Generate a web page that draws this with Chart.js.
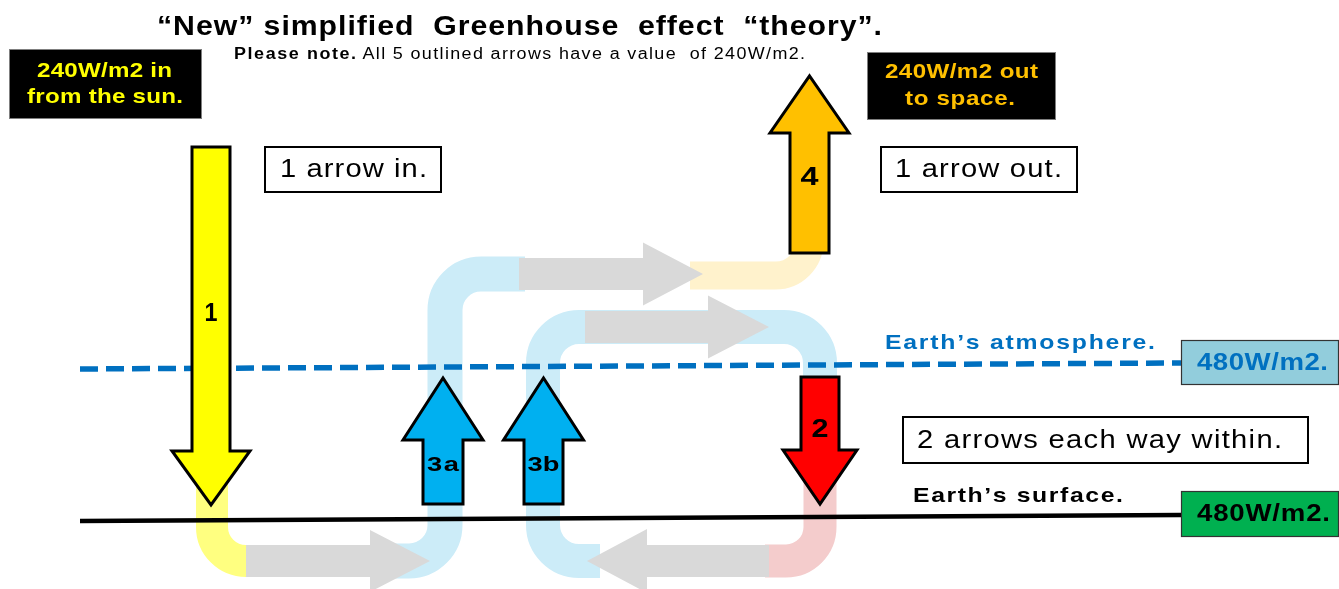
<!DOCTYPE html>
<html><head><meta charset="utf-8">
<script src="https://cdn.jsdelivr.net/npm/chart.js@4/dist/chart.umd.min.js"></script>
<style>html,body{margin:0;padding:0;background:#fff;}#wrap{width:1339px;height:589px;position:relative;}</style>
</head><body><div id="wrap"><canvas id="c" width="1339" height="589"></canvas></div>
<script>
// ---------- DATA (diagram coordinates: x 0..1339, y 0..589 from top) ----------
const atmosphereX = [80, 1181];
const atmosphereY = [369, 363];
const surfaceX = [80, 1181];
const surfaceY = [521, 515];

// outlined flow arrows (each 240 W/m2)
const flowLabels   = ['1', '2', '3a', '3b', '4'];
const flowX        = [211, 820, 443, 543.5, 809.5];
const flowTail     = [147, 377, 504, 504, 253];
const flowHeadBase = [451, 450, 440, 440, 133];
const flowTip      = [505, 504, 378, 378, 76];
const flowShaft    = [38, 38, 40, 39, 39];
const flowHead     = [78, 74, 80, 80, 79];
const flowLabelY   = [314, 430, 465, 465, 178];
const flowLabelW   = [13, 17, 32, 32, 18];

// faded grey transfer arrows (horizontal)
const greyShaftStart = [246, 519, 585, 769];
const greyShaftEnd   = [370, 643, 708, 647];
const greyTip        = [430, 703, 769, 587];
const greyY          = [561, 274, 327, 561];
const greyShaftH     = [32, 32, 32, 32];
const greyHeadH      = [62, 63, 63, 64];

// faded pipes (centre lines)
const pipeYellow = [[212, 478], [212, 561], [252, 561]];
const pipeBlueA  = [[395, 561], [445, 561], [445, 274], [525, 274]];
const pipeOrange = [[690, 275.5], [809.5, 275.5], [809.5, 245]];
const pipeBlueB  = [[600, 561], [543, 561], [543, 327], [820, 327], [820, 385]];
const pipeRed    = [[820, 460], [820, 561], [765, 561]];

// texts
const titleText = '\u201CNew\u201D simplified  Greenhouse  effect  \u201Ctheory\u201D.';
const noteBold = 'Please note.';
const noteText = ' All 5 outlined arrows have a value  of 240W/m2.';
const sunLines = ['240W/m2 in', 'from the sun.'];
const spaceLines = ['240W/m2 out', 'to space.'];
const boxTexts = ['1 arrow in.', '1 arrow out.', '2 arrows each way within.'];
const layerNames = ['Earth\u2019s atmosphere.', 'Earth\u2019s surface.'];
const layerValues = ['480W/m2.', '480W/m2.'];

// ---------- STYLES ----------
const FONT = '"Liberation Sans", Arial, sans-serif';
const flowColors = ['#FFFF00', '#FF0000', '#00B0F0', '#00B0F0', '#FFC000'];
const pipeStyles = [
  {pts: pipeYellow, w: 32, r: 34, c: '#FFFF80'},
  {pts: pipeBlueA,  w: 35, r: 36, c: '#CCECF8'},
  {pts: pipeOrange, w: 28, r: 34, c: '#FFF2CC'},
  {pts: pipeBlueB,  w: 34, r: 36, c: '#CCECF8'},
  {pts: pipeRed,    w: 33, r: 34, c: '#F4CCCC'}
];

function fitText(ctx, str, cx, cy, width, maxStretch) {
  const chars = Array.from(str);
  const ws = chars.map(ch => ctx.measureText(ch).width);
  const nat = ws.reduce((a, b) => a + b, 0);
  let sx = Math.min(width / nat, maxStretch || 1.2);
  let extra = chars.length > 1 ? (width - nat * sx) / (chars.length - 1) : 0;
  ctx.save();
  ctx.textAlign = 'left';
  ctx.textBaseline = 'middle';
  ctx.translate(cx - width / 2, cy);
  let x = 0;
  chars.forEach((ch, i) => {
    ctx.save(); ctx.translate(x, 0); ctx.scale(sx, 1); ctx.fillText(ch, 0, 0); ctx.restore();
    x += ws[i] * sx + extra;
  });
  ctx.restore();
}

const diagram = {
  id: 'diagram',
  beforeDatasetsDraw(chart) {
    const ctx = chart.ctx, X = v => chart.scales.x.getPixelForValue(v), Y = v => chart.scales.y.getPixelForValue(v);
    ctx.save();
    pipeStyles.forEach(p => {
      ctx.beginPath();
      ctx.moveTo(X(p.pts[0][0]), Y(p.pts[0][1]));
      for (let i = 1; i < p.pts.length - 1; i++) {
        ctx.arcTo(X(p.pts[i][0]), Y(p.pts[i][1]), X(p.pts[i + 1][0]), Y(p.pts[i + 1][1]), p.r);
      }
      const l = p.pts[p.pts.length - 1];
      ctx.lineTo(X(l[0]), Y(l[1]));
      ctx.lineWidth = p.w; ctx.strokeStyle = p.c; ctx.lineCap = 'butt'; ctx.lineJoin = 'round';
      ctx.stroke();
    });
    greyY.forEach((gy, i) => {
      const s = greyShaftStart[i], e = greyShaftEnd[i], t = greyTip[i], sh = greyShaftH[i] / 2, hh = greyHeadH[i] / 2;
      ctx.beginPath();
      ctx.moveTo(X(s), Y(gy - sh)); ctx.lineTo(X(e), Y(gy - sh)); ctx.lineTo(X(e), Y(gy - hh));
      ctx.lineTo(X(t), Y(gy)); ctx.lineTo(X(e), Y(gy + hh)); ctx.lineTo(X(e), Y(gy + sh)); ctx.lineTo(X(s), Y(gy + sh));
      ctx.closePath(); ctx.fillStyle = '#D9D9D9'; ctx.fill();
    });
    ctx.restore();
  },
  afterDatasetsDraw(chart) {
    const ctx = chart.ctx, X = v => chart.scales.x.getPixelForValue(v), Y = v => chart.scales.y.getPixelForValue(v);
    ctx.save();
    flowLabels.forEach((lab, i) => {
      const cx = flowX[i], sw = flowShaft[i] / 2, hw = flowHead[i] / 2;
      ctx.beginPath();
      ctx.moveTo(X(cx - sw), Y(flowTail[i])); ctx.lineTo(X(cx + sw), Y(flowTail[i]));
      ctx.lineTo(X(cx + sw), Y(flowHeadBase[i])); ctx.lineTo(X(cx + hw), Y(flowHeadBase[i]));
      ctx.lineTo(X(cx), Y(flowTip[i])); ctx.lineTo(X(cx - hw), Y(flowHeadBase[i]));
      ctx.lineTo(X(cx - sw), Y(flowHeadBase[i])); ctx.closePath();
      ctx.fillStyle = flowColors[i]; ctx.fill();
      ctx.lineWidth = 3; ctx.strokeStyle = '#000'; ctx.lineJoin = 'miter'; ctx.stroke();
      ctx.fillStyle = '#000';
      ctx.font = 'bold ' + (lab.length > 1 ? 21 : 25) + 'px ' + FONT;
      fitText(ctx, lab, X(cx), Y(flowLabelY[i]), flowLabelW[i], 1.3);
    });
    ctx.fillStyle = '#000';
    ctx.font = 'bold 28px ' + FONT;
    fitText(ctx, titleText, X(519.5), Y(27), 725, 1.08);
    ctx.font = 'bold 16px ' + FONT;
    const wb = ctx.measureText(noteBold).width;
    ctx.font = '16px ' + FONT;
    const wr = ctx.measureText(noteText).width;
    const total = 571, scaleN = total / (wb + wr);
    ctx.font = 'bold 16px ' + FONT;
    fitText(ctx, noteBold, X(234 + wb * scaleN / 2), Y(55), wb * scaleN, 1.12);
    ctx.font = '16px ' + FONT;
    fitText(ctx, noteText, X(234 + wb * scaleN + wr * scaleN / 2), Y(55), wr * scaleN, 1.12);

    const blackBox = (x1, y1, x2, y2) => {
      ctx.fillStyle = '#000'; ctx.fillRect(X(x1), Y(y1), X(x2) - X(x1), Y(y2) - Y(y1));
      ctx.strokeStyle = '#7F7F7F'; ctx.lineWidth = 1; ctx.strokeRect(X(x1) + 0.5, Y(y1) + 0.5, X(x2) - X(x1), Y(y2) - Y(y1));
    };
    blackBox(9, 49, 201, 118);
    ctx.fillStyle = '#FFFF00'; ctx.font = 'bold 21px ' + FONT;
    fitText(ctx, sunLines[0], X(104.5), Y(71), 135, 1.15);
    fitText(ctx, sunLines[1], X(105), Y(97), 156, 1.15);
    blackBox(867, 52, 1055, 119);
    ctx.fillStyle = '#FFC000'; ctx.font = 'bold 21px ' + FONT;
    fitText(ctx, spaceLines[0], X(961.5), Y(72.5), 153, 1.15);
    fitText(ctx, spaceLines[1], X(960), Y(99), 110, 1.15);

    const whiteBox = (x1, y1, x2, y2, txt, cx, cy, w) => {
      ctx.fillStyle = '#fff'; ctx.fillRect(X(x1), Y(y1), X(x2) - X(x1), Y(y2) - Y(y1));
      ctx.strokeStyle = '#000'; ctx.lineWidth = 2; ctx.strokeRect(X(x1), Y(y1), X(x2) - X(x1), Y(y2) - Y(y1));
      ctx.fillStyle = '#000'; ctx.font = '26px ' + FONT;
      fitText(ctx, txt, X(cx), Y(cy), w, 1.12);
    };
    whiteBox(265, 147, 441, 192, boxTexts[0], 353.5, 170, 147);
    whiteBox(881, 147, 1077, 192, boxTexts[1], 978.5, 170, 167);
    whiteBox(903, 417, 1308, 463, boxTexts[2], 1099.5, 441, 365);

    ctx.font = 'bold 21px ' + FONT;
    ctx.fillStyle = '#0070C0';
    fitText(ctx, layerNames[0], X(1020), Y(343), 270, 1.18);
    ctx.fillStyle = '#000';
    fitText(ctx, layerNames[1], X(1018), Y(496), 210, 1.18);

    ctx.fillStyle = '#92CDDC'; ctx.fillRect(X(1181), Y(340), X(1338) - X(1181), Y(384) - Y(340));
    ctx.strokeStyle = '#333'; ctx.lineWidth = 1.2; ctx.strokeRect(X(1181) + 0.5, Y(340) + 0.5, X(1338) - X(1181), Y(384) - Y(340));
    ctx.fillStyle = '#0070C0'; ctx.font = 'bold 24px ' + FONT;
    fitText(ctx, layerValues[0], X(1262.5), Y(363), 131, 1.15);
    ctx.fillStyle = '#00B050'; ctx.fillRect(X(1181), Y(491), X(1338) - X(1181), Y(536) - Y(491));
    ctx.strokeStyle = '#333'; ctx.strokeRect(X(1181) + 0.5, Y(491) + 0.5, X(1338) - X(1181), Y(536) - Y(491));
    ctx.fillStyle = '#000';
    fitText(ctx, layerValues[1], X(1263.5), Y(514), 133, 1.15);
    ctx.restore();
  }
};

new Chart(document.getElementById('c'), {
  type: 'line',
  data: {
    datasets: [
      {
        label: 'Earth\u2019s atmosphere',
        data: atmosphereX.map((x, i) => ({x, y: atmosphereY[i]})),
        borderColor: '#0070C0', borderWidth: 5.5, borderDash: [18, 8], pointRadius: 0, fill: false
      },
      {
        label: 'Earth\u2019s surface',
        data: surfaceX.map((x, i) => ({x, y: surfaceY[i]})),
        borderColor: '#000', borderWidth: 4.5, pointRadius: 0, fill: false
      }
    ]
  },
  options: {
    responsive: false, animation: false, events: [],
    layout: {padding: 0},
    plugins: {legend: {display: false}, tooltip: {enabled: false}, title: {display: false}},
    scales: {
      x: {type: 'linear', min: 0, max: 1339, display: false},
      y: {type: 'linear', min: 0, max: 589, reverse: true, display: false}
    }
  },
  plugins: [diagram]
});
</script></body></html>
